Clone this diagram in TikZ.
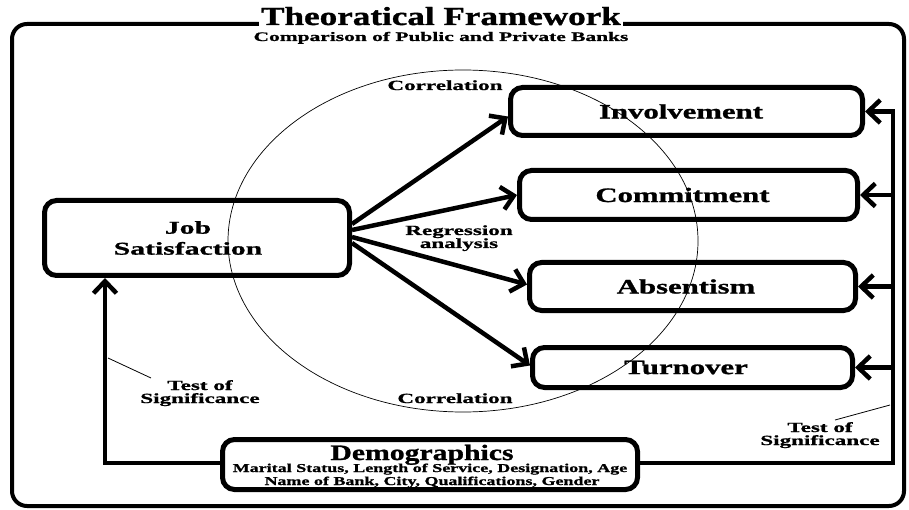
\documentclass[tikz,border=0pt]{standalone}
\usepackage{fontspec}
\setmainfont{Liberation Serif}
\newfontfamily\fA{Liberation Serif}[FakeStretch=1.35, BoldFeatures={FakeBold=1.2}]
\newfontfamily\fB{Liberation Serif}[FakeStretch=1.5, BoldFeatures={FakeBold=1.2}]
\newfontfamily\fC{Liberation Serif}[FakeStretch=1.65, BoldFeatures={FakeBold=1}]
\usetikzlibrary{arrows.meta}
\tikzset{
  box/.style={draw, line width=5pt, rounded corners=12pt, inner sep=0pt},
  boxlab/.style={font=\fB\bfseries\fontsize{20.5}{20}\selectfont},
  arr/.style={line width=4.5pt, line join=miter, -{Straight Barb[length=12pt,width=23pt]}},
  thinline/.style={line width=0.8pt},
  lab/.style={font=\fC\bfseries\fontsize{14}{13}\selectfont, align=center, inner sep=0pt, anchor=base},
}
\begin{document}
\begin{tikzpicture}[x=1pt,y=-1pt]
\useasboundingbox (0,0) rectangle (909,510);
% frame
\node[draw, line width=4pt, rounded corners=15pt, minimum width=892pt, minimum height=482pt, inner sep=0pt] (frame) at (458,265) {};
% ellipse
\draw[line width=0.7pt] (463,241) ellipse [x radius=235, y radius=171];
% titles
\node[fill=white, inner xsep=2pt, inner ysep=5pt, anchor=base, font=\fA\bfseries\fontsize{26}{26}\selectfont] (title) at (441,25) {Theoratical Framework};
\node[anchor=base, inner sep=0pt, font=\fC\bfseries\fontsize{13}{13}\selectfont] (subtitle) at (441,41) {Comparison of Public and Private Banks};
% boxes
\node[box, minimum width=305pt, minimum height=75pt, align=center, font=\fC\bfseries\fontsize{18}{21}\selectfont] (js) at (197,238) {Job\hspace*{18pt}\\Satisfaction\hspace*{18pt}};
\node[box, boxlab, minimum width=352pt, minimum height=48pt] (inv) at (686.5,111.5) {Involvement\hspace*{11pt}};
\node[box, boxlab, minimum width=338pt, minimum height=49pt] (com) at (688.5,195) {Commitment\hspace*{12pt}};
\node[box, boxlab, minimum width=326pt, minimum height=48pt] (abs) at (692.5,286.5) {Absentism\hspace*{13pt}};
\node[box, boxlab, minimum width=320pt, minimum height=40pt] (tur) at (692.5,367.5) {Turnover\hspace*{13pt}};
\node[box, minimum width=415pt, minimum height=50pt] (demo) at (430,464.5) {};
\node[anchor=base, inner sep=0pt, font=\fA\bfseries\fontsize{22}{22}\selectfont] (demoT) at (422,460) {Demographics};
\node[anchor=base, inner sep=0pt, font=\fB\bfseries\fontsize{12}{12}\selectfont] (demoA) at (430,472) {Marital Status, Length of Service, Designation, Age};
\node[anchor=base, inner sep=0pt, font=\fB\bfseries\fontsize{12}{12}\selectfont] (demoB) at (432,485) {Name of Bank, City, Qualifications, Gender};
% labels
\node[lab] (corrT) at (445,90) {Correlation};
\node[lab] (corrB) at (455,403) {Correlation};
\node[lab] (reg) at (459,248) {Regression\\analysis};
\node[lab] (tsL) at (200,403) {Test of\\Significance};
\node[lab] (tsR) at (820,445) {Test of\\Significance};
% arrows from job satisfaction
\draw[arr] ([yshift=14pt]js.east) -- ([yshift=-5pt]inv.west);
\draw[arr] ([yshift=8pt]js.east) -- (com.west);
\draw[arr] ([yshift=1pt]js.east) -- ([yshift=2pt]abs.west);
\draw[arr] ([yshift=-5pt]js.east) -- ([yshift=2pt]tur.west);
% demographics connectors
\coordinate (rtop) at (893,111.5);
\coordinate (rbot) at (893,463);
\coordinate (lbot) at (105,463);
\draw[arr] (demo.west |- lbot) -- (lbot) -- (lbot |- js.south);
\draw[arr] (demo.east |- rbot) -- (rbot) -- (rtop) -- (inv.east);
\draw[arr] (com.east -| rtop) -- (com.east);
\draw[arr] (abs.east -| rtop) -- (abs.east);
\draw[arr] (tur.east -| rtop) -- (tur.east);
% label pointer lines
\coordinate (pl1) at (108,358);
\coordinate (pl2) at (151,378);
\coordinate (pr1) at (835,420);
\coordinate (pr2) at (890,405);
\draw[thinline] (pl1) -- (pl2);
\draw[thinline] (pr1) -- (pr2);
\end{tikzpicture}
\end{document}
